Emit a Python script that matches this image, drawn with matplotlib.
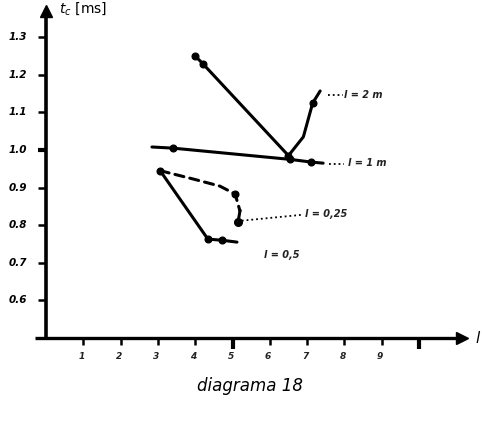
import matplotlib
matplotlib.use("Agg")
import matplotlib.pyplot as plt

# Series: t_c [ms] against l, one curve per parameter value
curve_a_x = [4.0, 4.2, 6.5, 6.9, 7.15, 7.35]
curve_a_y = [1.25, 1.23, 0.985, 1.035, 1.125, 1.157]
curve_a_marks = [0, 1, 2, 4]

curve_b_x = [2.84, 3.4, 6.55, 7.1, 7.43]
curve_b_y = [1.008, 1.005, 0.975, 0.968, 0.965]
curve_b_marks = [1, 2, 3]

curve_c_x = [3.06, 4.34, 4.72, 5.12]
curve_c_y = [0.945, 0.763, 0.760, 0.755]
curve_c_marks = [0, 1, 2]

curve_d_x = [3.06, 3.94, 4.66, 5.07, 5.2, 5.15]
curve_d_y = [0.945, 0.923, 0.904, 0.883, 0.838, 0.809]
curve_d_marks = [3, 5]

curve_labels = ["l = 2 m", "l = 1 m", "l = 0,25", "l = 0,5"]

x_ticks = [1, 2, 3, 4, 5, 6, 7, 8, 9, 10]
x_tick_labels = ["1", "2", "3", "4", "5", "6", "7", "8", "9", ""]
y_ticks = [0.6, 0.7, 0.8, 0.9, 1.0, 1.1, 1.2, 1.3]
y_tick_labels = ["0.6", "0.7", "0.8", "0.9", "1.0", "1.1", "1.2", "1.3"]

W, H = 482, 421
fig = plt.figure(figsize=(W / 100, H / 100), dpi=100)
x0, x1 = 0.0, 11.2
y0, y1 = 0.5, 1.38
left_px, bottom_px = 46, 338
ax = fig.add_axes([left_px / W, (H - bottom_px) / H,
                   (x1 - x0) * 37.3 / W, (y1 - y0) * 376 / H])
ax.set_xlim(x0, x1)
ax.set_ylim(y0, y1)
ax.axis("off")

ink = "black"
# axes with arrow heads
ax.plot([-0.3, 11.1], [0.5, 0.5], color=ink, lw=2.4, clip_on=False, solid_capstyle="butt")
ax.plot([0, 0], [0.5, 1.36], color=ink, lw=2.6, clip_on=False, solid_capstyle="butt")
ax.plot([11.15], [0.5], marker=">", ms=8, color=ink, clip_on=False)
ax.plot([0], [1.37], marker="^", ms=8, color=ink, clip_on=False)

# ticks
for xt, lab in zip(x_ticks, x_tick_labels):
    bold = xt in (5, 10)
    ax.plot([xt, xt], [0.5, 0.5 - (0.028 if bold else 0.018)], color=ink,
            lw=3.0 if bold else 1.8, clip_on=False, solid_capstyle="butt")
    ax.text(xt - 0.05, 0.45, lab, ha="center", va="center", fontsize=6.5,
            style="italic", fontweight="bold", color="#222222")
for yt, lab in zip(y_ticks, y_tick_labels):
    bold = abs(yt - 1.0) < 1e-9
    ax.plot([0, -0.22], [yt, yt], color=ink, lw=3.0 if bold else 1.8,
            clip_on=False, solid_capstyle="butt")
    ax.text(-0.5, yt, lab, ha="right", va="center", fontsize=7.5,
            style="italic", fontweight="bold", color=ink)

ax.text(0.35, 1.375, "$t_c$ [ms]", ha="left", va="center", fontsize=10,
        color=ink)
ax.text(11.5, 0.5, "$l$", ha="left", va="center", fontsize=11, color=ink,
        clip_on=False)

# curves
def draw(xs, ys, marks, ls="-"):
    ax.plot(xs, ys, color=ink, lw=2.2, ls=ls, solid_capstyle="round",
            dash_capstyle="round")
    ax.plot([xs[i] for i in marks], [ys[i] for i in marks], "o", ms=4.8,
            color=ink)

draw(curve_a_x, curve_a_y, curve_a_marks)
draw(curve_b_x, curve_b_y, curve_b_marks)
draw(curve_c_x, curve_c_y, curve_c_marks)
draw(curve_d_x[:5], curve_d_y[:5], [3], ls=(0, (3, 2)))
ax.plot(curve_d_x[4:], curve_d_y[4:], color=ink, lw=2.2)
ax.plot([curve_d_x[5]], [curve_d_y[5]], "o", ms=5.5, color=ink)

# dotted leaders and curve labels
ax.plot([7.55, 7.95], [1.147, 1.147], color=ink, lw=1.3, ls=":")
ax.text(8.0, 1.147, curve_labels[0], ha="left", va="center", fontsize=7,
        style="italic", fontweight="bold", color="#222222")
ax.plot([7.6, 8.0], [0.963, 0.963], color=ink, lw=1.3, ls=":")
ax.text(8.1, 0.966, curve_labels[1], ha="left", va="center", fontsize=7,
        style="italic", fontweight="bold", color="#222222")
ax.plot([5.25, 6.9], [0.812, 0.828], color=ink, lw=1.3, ls=":")
ax.text(6.95, 0.83, curve_labels[2], ha="left", va="center", fontsize=7,
        style="italic", fontweight="bold", color="#222222")
ax.text(5.85, 0.72, curve_labels[3], ha="left", va="center", fontsize=7,
        style="italic", fontweight="bold", color="#222222")

fig.text(250 / W, 1 - 386 / H, "diagrama 18", ha="center", va="center",
         fontsize=12, style="italic", color=ink)

fig.savefig("out.png", dpi=100, facecolor="white")
